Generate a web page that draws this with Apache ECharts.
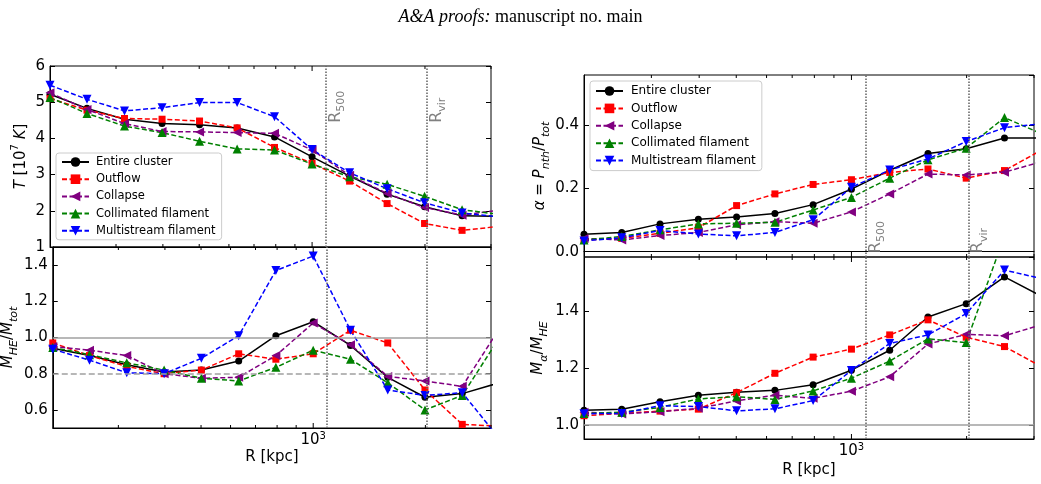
<!DOCTYPE html>
<html>
<head>
<meta charset="utf-8">
<script src="https://cdn.jsdelivr.net/npm/echarts@6/dist/echarts.min.js"></script>
<style>
  html, body { margin: 0; padding: 0; background: #fff; }
  #chart { width: 1041px; height: 484px; }
</style>
</head>
<body>
<div id="chart"></div>
<script>
// radial bins (kpc), 10 per decade
var radius = [200, 251, 316, 398, 501, 631, 794, 1000, 1259, 1585, 1995, 2512, 3162]
var seriesNames = ['Entire cluster', 'Outflow', 'Collapse', 'Collimated filament', 'Multistream filament']

// temperature [1e7 K]
var T_entire = [5.22, 4.83, 4.53, 4.41, 4.38, 4.29, 4.04, 3.49, 2.96, 2.46, 2.11, 1.86, 1.85]
var T_outflow = [5.10, 4.78, 4.55, 4.53, 4.48, 4.29, 3.75, 3.31, 2.82, 2.20, 1.65, 1.46, 1.57]
var T_collapse = [5.26, 4.80, 4.41, 4.19, 4.18, 4.16, 4.14, 3.68, 2.98, 2.48, 2.09, 1.88, 2.02]
var T_collimated = [5.13, 4.69, 4.34, 4.16, 3.92, 3.71, 3.68, 3.29, 2.94, 2.73, 2.40, 2.03, 1.90]
var T_multistream = [5.47, 5.08, 4.76, 4.85, 4.99, 4.99, 4.60, 3.69, 3.05, 2.61, 2.22, 1.94, 1.83]

// M_HE / M_tot
var MHE_entire = [0.94, 0.90, 0.85, 0.81, 0.82, 0.87, 1.01, 1.087, 0.956, 0.78, 0.67, 0.69, 0.75]
var MHE_outflow = [0.97, 0.90, 0.84, 0.80, 0.82, 0.91, 0.88, 0.91, 1.04, 0.97, 0.71, 0.52, 0.51]
var MHE_collapse = [0.95, 0.93, 0.90, 0.80, 0.775, 0.78, 0.90, 1.08, 0.96, 0.785, 0.76, 0.73, 1.05]
var MHE_collimated = [0.945, 0.905, 0.86, 0.82, 0.775, 0.76, 0.835, 0.93, 0.88, 0.75, 0.60, 0.68, 1.0]
var MHE_multistream = [0.935, 0.875, 0.805, 0.80, 0.885, 1.01, 1.37, 1.45, 1.04, 0.71, 0.68, 0.695, 0.44]

// alpha = P_nth / P_tot
var alpha_entire = [0.055, 0.061, 0.088, 0.103, 0.110, 0.121, 0.149, 0.198, 0.258, 0.311, 0.326, 0.360, 0.360]
var alpha_outflow = [0.037, 0.042, 0.058, 0.076, 0.146, 0.183, 0.213, 0.228, 0.251, 0.262, 0.233, 0.257, 0.324]
var alpha_collapse = [0.042, 0.037, 0.051, 0.061, 0.085, 0.095, 0.090, 0.126, 0.183, 0.246, 0.243, 0.252, 0.286]
var alpha_collimated = [0.037, 0.048, 0.069, 0.088, 0.090, 0.093, 0.132, 0.172, 0.233, 0.291, 0.328, 0.425, 0.372]
var alpha_multistream = [0.034, 0.044, 0.067, 0.056, 0.050, 0.061, 0.101, 0.204, 0.259, 0.294, 0.349, 0.393, 0.406]

// M_alpha / M_HE
var Malpha_entire = [1.051, 1.055, 1.081, 1.104, 1.114, 1.121, 1.141, 1.192, 1.262, 1.379, 1.426, 1.520, 1.45]
var Malpha_outflow = [1.032, 1.040, 1.048, 1.055, 1.113, 1.181, 1.238, 1.266, 1.316, 1.369, 1.308, 1.275, 1.202]
var Malpha_collapse = [1.044, 1.038, 1.046, 1.058, 1.084, 1.104, 1.093, 1.118, 1.169, 1.284, 1.318, 1.313, 1.353]
var Malpha_collimated = [1.040, 1.044, 1.061, 1.091, 1.099, 1.089, 1.119, 1.164, 1.224, 1.302, 1.289, 1.665, 1.75]
var Malpha_multistream = [1.039, 1.040, 1.067, 1.064, 1.049, 1.056, 1.085, 1.191, 1.286, 1.316, 1.391, 1.544, 1.513]

// reference radii and x tick values
var r500 = 1090
var rvir = 2020
var refLabels = ['{r|R}{s|500}', '{r|R}{s|vir}']
var minorTicksR = [300, 400, 500, 600, 700, 800, 900, 2000, 3000]
var majorTicksR = [1000]

var FONT = 'DejaVu Sans'
var styles = [
  { color: '#000000', symbol: 'circle', size: 7, rotate: 0, type: 'solid' },
  { color: '#ff0000', symbol: 'rect', size: 7, rotate: 0, type: [5, 2.5] },
  { color: '#800080', symbol: 'triangle', size: 9, rotate: 90, type: [5, 2.5] },
  { color: '#008000', symbol: 'triangle', size: 9, rotate: 0, type: [5, 2.5] },
  { color: '#0000ff', symbol: 'triangle', size: 9, rotate: 180, type: [5, 2.5] }
]
var panels = [
  [T_entire, T_outflow, T_collapse, T_collimated, T_multistream],
  [MHE_entire, MHE_outflow, MHE_collapse, MHE_collimated, MHE_multistream],
  [alpha_entire, alpha_outflow, alpha_collapse, alpha_collimated, alpha_multistream],
  [Malpha_entire, Malpha_outflow, Malpha_collapse, Malpha_collimated, Malpha_multistream]
]

var grids = [
  { left: 50, top: 66, width: 441, height: 181 },
  { left: 50, top: 247, width: 441, height: 181 },
  { left: 584, top: 75, width: 450, height: 182 },
  { left: 584, top: 257, width: 450, height: 182 }
]
grids.forEach(function (g) {
  g.show = true
  g.borderColor = '#000'
  g.borderWidth = 1
  g.backgroundColor = 'transparent'
})

var yRanges = [
  { min: 1, max: 6, interval: 1 },
  { min: 0.5, max: 1.5, splitNumber: 5 },
  { min: -0.017, max: 0.56, splitNumber: 3 },
  { min: 0.95, max: 1.59, splitNumber: 3 }
]

var mathRich = {
  i: { fontStyle: 'italic', fontSize: 15, fontFamily: FONT, lineHeight: 23 },
  n: { fontSize: 15, fontFamily: FONT, lineHeight: 23 },
  sub: { fontStyle: 'italic', fontSize: 11, fontFamily: FONT, verticalAlign: 'bottom', lineHeight: 11 },
  sup: { fontSize: 10, fontFamily: FONT, verticalAlign: 'top', lineHeight: 12 }
}
var yNames = [
  '{i|T} {n|[10}{sup|7} {i|K}{n|]}',
  '{i|M}{sub|HE}{n|/}{i|M}{sub|tot}',
  '{i|α} {n|=} {i|P}{sub|nth}{n|/}{i|P}{sub|tot}',
  '{i|M}{sub|α}{n|/}{i|M}{sub|HE}'
]
var yNameGaps = [17, 28, 30, 34]

var xAxes = []
var yAxes = []
for (var i = 0; i < 4; i++) {
  var bottom = i === 1 || i === 3
  xAxes.push({
    type: 'log',
    logBase: 10,
    gridIndex: i,
    min: 200,
    max: 3000,
    axisLine: { show: true, lineStyle: { color: '#000', width: 1 } },
    axisTick: { show: false },
    axisLabel: { show: false },
    splitLine: { show: false },
    name: bottom ? 'R [kpc]' : '',
    nameLocation: 'middle',
    nameGap: i === 1 ? 22 : 24,
    nameTextStyle: { fontFamily: FONT, fontSize: 15, color: '#000' }
  })
  var r = yRanges[i]
  yAxes.push({
    type: 'value',
    gridIndex: i,
    min: r.min,
    max: r.max,
    interval: r.interval,
    splitNumber: r.splitNumber,
    axisLine: { show: true, lineStyle: { color: '#000', width: 1 } },
    axisTick: { show: true, inside: true, length: 5, lineStyle: { color: '#000' } },
    axisLabel: {
      fontFamily: FONT,
      fontSize: 15,
      color: '#000',
      margin: 5,
      showMinLabel: i === 0,
      showMaxLabel: i === 0,
      formatter: i === 0 ? function (v) { return String(v) } : function (v) { return v.toFixed(1) }
    },
    splitLine: { show: false },
    name: yNames[i],
    nameLocation: 'middle',
    nameRotate: 90,
    nameGap: yNameGaps[i],
    nameTextStyle: { fontFamily: FONT, fontSize: 15, color: '#000', rich: mathRich }
  })
}
// right-hand tick marks
for (var k = 0; k < 4; k++) {
  var rr = yRanges[k]
  yAxes.push({
    type: 'value',
    gridIndex: k,
    position: 'right',
    min: rr.min,
    max: rr.max,
    interval: rr.interval,
    splitNumber: rr.splitNumber,
    axisLine: { show: false },
    axisTick: { show: true, inside: true, length: 5, lineStyle: { color: '#000' } },
    axisLabel: { show: false },
    splitLine: { show: false }
  })
}

var series = []
panels.forEach(function (sets, gi) {
  sets.forEach(function (vals, j) {
    var st = styles[j]
    var s = {
      type: 'line',
      name: seriesNames[j],
      xAxisIndex: gi,
      yAxisIndex: gi,
      data: radius.map(function (x, idx) { return [x, vals[idx]] }),
      symbol: st.symbol,
      symbolSize: st.size,
      symbolRotate: st.rotate,
      showAllSymbol: true,
      clip: true,
      lineStyle: { color: st.color, width: 1.5, type: st.type },
      itemStyle: { color: st.color },
      emphasis: { disabled: true }
    }
    if (j === 0) {
      var lines = [
        { xAxis: r500 },
        { xAxis: rvir }
      ]
      if (gi === 1) {
        lines.push({ yAxis: 1.0, lineStyle: { type: 'solid', color: '#a0a0a0', width: 1.5 } })
        lines.push({ yAxis: 0.8, lineStyle: { type: [6, 3], color: '#a0a0a0', width: 1.5 } })
      }
      if (gi === 3) {
        lines.push({ yAxis: 1.0, lineStyle: { type: 'solid', color: '#a0a0a0', width: 1.5 } })
      }
      s.markLine = {
        silent: true,
        symbol: 'none',
        label: { show: false },
        lineStyle: { color: '#6a6a6a', type: [1.5, 1.5], width: 1.6 },
        data: lines
      }
    }
    series.push(s)
  })
})

// x ticks on top and bottom edges, plus the 10^3 label on lower panels
function tickSeries(gi, withLabel) {
  var ticks = minorTicksR.map(function (v) { return [v, 0] })
    .concat(majorTicksR.map(function (v) { return [v, 1] }))
  return {
    type: 'custom',
    xAxisIndex: gi,
    yAxisIndex: gi,
    silent: true,
    z: 4,
    data: ticks,
    encode: { x: 0, y: 1 },
    renderItem: function (params, api) {
      var cs = params.coordSys
      var x = api.coord([api.value(0), yRanges[gi].min])[0]
      var major = api.value(1) === 1
      var len = major ? 5 : 3
      var yb = cs.y + cs.height
      var children = [
        { type: 'line', shape: { x1: x, y1: yb, x2: x, y2: yb - len }, style: { stroke: '#000', lineWidth: 1 } },
        { type: 'line', shape: { x1: x, y1: cs.y, x2: x, y2: cs.y + len }, style: { stroke: '#000', lineWidth: 1 } }
      ]
      if (withLabel && major) {
        children.push({
          type: 'text',
          x: x,
          y: yb + 3,
          style: {
            text: '10{sup|3}',
            align: 'center',
            verticalAlign: 'top',
            fill: '#000',
            fontFamily: FONT,
            fontSize: 15,
            lineHeight: 18,
            rich: { sup: { fontFamily: FONT, fontSize: 10, verticalAlign: 'top', lineHeight: 10 } }
          }
        })
      }
      return { type: 'group', children: children }
    }
  }
}

// rotated R500 / Rvir labels
function refLabelSeries(gi, yPos) {
  return {
    type: 'custom',
    xAxisIndex: gi,
    yAxisIndex: gi,
    silent: true,
    z: 4,
    data: [[r500, yPos], [rvir, yPos]],
    encode: { x: 0, y: 1 },
    renderItem: function (params, api) {
      var p = api.coord([api.value(0), api.value(1)])
      return {
        type: 'text',
        x: p[0] - 1,
        y: p[1],
        rotation: Math.PI / 2,
        style: {
          text: refLabels[params.dataIndex],
          align: 'left',
          verticalAlign: 'top',
          fill: '#808080',
          rich: {
            r: { fontFamily: FONT, fontSize: 16, color: '#808080', lineHeight: 22 },
            s: { fontFamily: FONT, fontSize: 11, color: '#808080', verticalAlign: 'bottom', lineHeight: 11 }
          }
        }
      }
    }
  }
}

series.push(tickSeries(0, false), tickSeries(1, true), tickSeries(2, false), tickSeries(3, true))
series.push(refLabelSeries(0, 4.43), refLabelSeries(2, -0.005))

var legendBase = {
  data: seriesNames,
  orient: 'vertical',
  itemWidth: 27,
  itemHeight: 12,
  backgroundColor: 'rgba(255,255,255,0.8)',
  borderColor: '#cccccc',
  borderWidth: 1,
  borderRadius: 3,
  selectedMode: false
}

var chart = echarts.init(document.getElementById('chart'), null, { renderer: 'canvas' })
chart.setOption({
  animation: false,
  backgroundColor: '#ffffff',
  title: {
    text: '{i|A&A proofs:} manuscript no. main',
    left: 'center',
    top: 3,
    textStyle: {
      fontFamily: 'Liberation Serif',
      fontSize: 18,
      fontWeight: 'normal',
      color: '#000',
      rich: {
        i: { fontFamily: 'Liberation Serif', fontSize: 18, fontStyle: 'italic', color: '#000' }
      }
    }
  },
  legend: [
    Object.assign({}, legendBase, {
      left: 56,
      top: 153,
      itemGap: 5.2,
      padding: [3, 6, 3, 5],
      textStyle: { fontFamily: FONT, fontSize: 11.5, color: '#000', padding: [0, 0, 0, 2] }
    }),
    Object.assign({}, legendBase, {
      left: 590,
      top: 81,
      itemGap: 5.4,
      padding: [4, 6, 4, 5],
      textStyle: { fontFamily: FONT, fontSize: 12, color: '#000', padding: [0, 0, 0, 3] }
    })
  ],
  grid: grids,
  xAxis: xAxes,
  yAxis: yAxes,
  series: series
})
</script>
</body>
</html>
